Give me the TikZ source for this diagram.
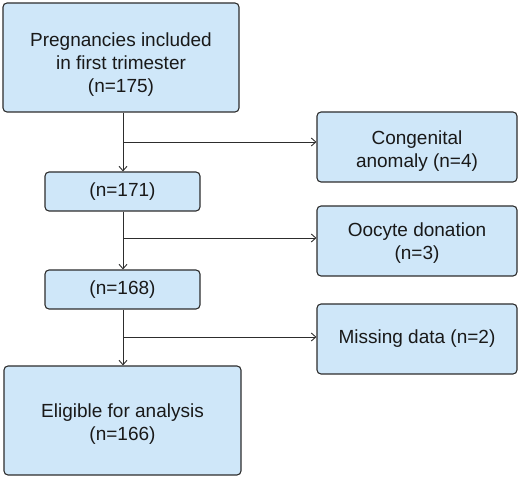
\documentclass[tikz,border=0pt]{standalone}
\usepackage{fontspec}
\setmainfont{Liberation Sans}
\usepackage{xcolor}
\usepackage{tikz}
\usetikzlibrary{positioning,calc,arrows.meta}

\definecolor{boxfill}{RGB}{207,231,249}
\definecolor{boxline}{RGB}{45,45,45}

\begin{document}
\begin{tikzpicture}[x=1pt, y=-1pt,
    flowbox/.style={draw=boxline, fill=boxfill, line width=1.1pt, rounded corners=4pt, inner sep=0pt},
    bigbox/.style={flowbox, minimum width=236pt, minimum height=109pt},
    smallbox/.style={flowbox, minimum width=155pt, minimum height=39pt},
    sidebox/.style={flowbox, minimum width=200pt, minimum height=70pt},
    boxtext/.style={align=center, inner sep=0pt, text=black!90, font=\fontsize{19}{23}\selectfont},
    flowline/.style={draw=boxline, line width=0.9pt, -{Straight Barb[length=4.5pt,width=8pt]}}]
    \useasboundingbox (0,0) rectangle (520,478);

    % Main column
    \node[bigbox] (start) at (121,57.5) {};
    \node[smallbox] (n171) at (122.5,191.5) {};
    \node[smallbox] (n168) at (122.5,289.5) {};
    \node[bigbox, minimum width=237pt] (eligible) at (122.5,420.5) {};

    % Exclusions
    \node[sidebox] (anomaly) at (417,147) {};
    \node[sidebox] (donation) at (417,241) {};
    \node[sidebox] (missing) at (417,339) {};

    % Texts
    \node[boxtext] (start-t) at ([yshift=-7pt]start.center) {Pregnancies included\\in first trimester\\(n=175)};
    \node[boxtext] (n171-t) at (n171.center) {(n=171)};
    \node[boxtext] (n168-t) at (n168.center) {(n=168)};
    \node[boxtext] (eligible-t) at ([yshift=-4pt]eligible.center) {Eligible for analysis\\(n=166)};
    \node[boxtext] (anomaly-t) at ([yshift=-4pt]anomaly.center) {Congenital\\anomaly (n=4)};
    \node[boxtext] (donation-t) at ([yshift=-2.5pt]donation.center) {Oocyte donation\\(n=3)};
    \node[boxtext] (missing-t) at (missing.center) {Missing data (n=2)};

    % Branch points
    \coordinate (b1) at (123,142);
    \coordinate (b2) at (123,238);
    \coordinate (b3) at (123,337);

    \draw[flowline] (b1 |- start.south) -- (b1 |- n171.north);
    \draw[flowline] (b2 |- n171.south) -- (b2 |- n168.north);
    \draw[flowline] (b3 |- n168.south) -- (b3 |- eligible.north);
    \draw[flowline] (b1) -- (b1 -| anomaly.west);
    \draw[flowline] (b2) -- (b2 -| donation.west);
    \draw[flowline] (b3) -- (b3 -| missing.west);
\end{tikzpicture}
\end{document}
